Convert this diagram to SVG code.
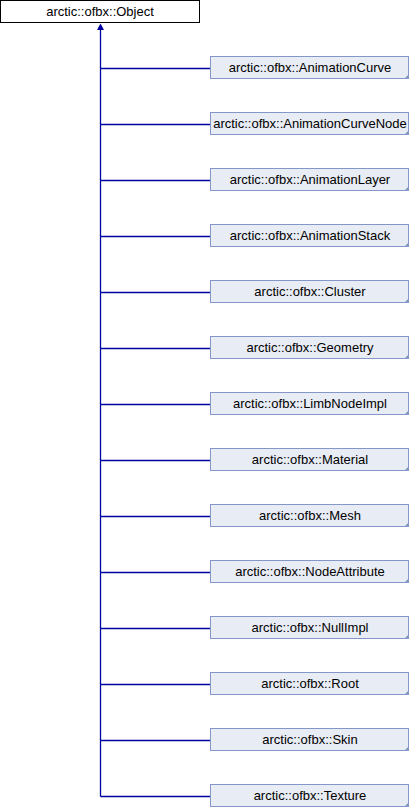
<svg xmlns="http://www.w3.org/2000/svg" width="410" height="808" viewBox="0 0 410 808">
<style>
.bg{fill:#ffffff}
.base rect{fill:#ffffff;stroke:#000000;stroke-width:1}
.cls rect{fill:#e8ecf5;stroke:#8497c8;stroke-width:1}
.cls polygon{fill:#8497c8}
text{font-family:"Liberation Sans",Arial,sans-serif;font-size:13px;fill:#000000;text-anchor:middle}
.edges line{stroke:#0000a0;stroke-width:1.3}
.edges polygon{fill:#0000a0}
</style>
<rect class="bg" x="0" y="0" width="410" height="808"/>
<g class="edges" id="connectors">
<line x1="100.5" y1="28" x2="100.5" y2="796.5"/>
<polygon points="100.5,23.5 97,30 104,30"/>
<line x1="100.5" y1="68.5" x2="210" y2="68.5"/>
<line x1="100.5" y1="124.5" x2="210" y2="124.5"/>
<line x1="100.5" y1="180.5" x2="210" y2="180.5"/>
<line x1="100.5" y1="236.5" x2="210" y2="236.5"/>
<line x1="100.5" y1="292.5" x2="210" y2="292.5"/>
<line x1="100.5" y1="348.5" x2="210" y2="348.5"/>
<line x1="100.5" y1="404.5" x2="210" y2="404.5"/>
<line x1="100.5" y1="460.5" x2="210" y2="460.5"/>
<line x1="100.5" y1="516.5" x2="210" y2="516.5"/>
<line x1="100.5" y1="572.5" x2="210" y2="572.5"/>
<line x1="100.5" y1="628.5" x2="210" y2="628.5"/>
<line x1="100.5" y1="684.5" x2="210" y2="684.5"/>
<line x1="100.5" y1="740.5" x2="210" y2="740.5"/>
<line x1="100.5" y1="796.5" x2="210" y2="796.5"/>
</g>
<g class="base" id="node-Object">
<rect x="0.5" y="0.5" width="199" height="22"/>
<text x="100" y="16">arctic::ofbx::Object</text>
</g>
<g class="cls" id="node-AnimationCurve"><rect x="210.5" y="56.5" width="198" height="22"/><polygon points="409,74 409,79 404,79"/><text x="310" y="72">arctic::ofbx::AnimationCurve</text></g>
<g class="cls" id="node-AnimationCurveNode"><rect x="210.5" y="112.5" width="198" height="22"/><polygon points="409,130 409,135 404,135"/><text x="310" y="128">arctic::ofbx::AnimationCurveNode</text></g>
<g class="cls" id="node-AnimationLayer"><rect x="210.5" y="168.5" width="198" height="22"/><polygon points="409,186 409,191 404,191"/><text x="310" y="184">arctic::ofbx::AnimationLayer</text></g>
<g class="cls" id="node-AnimationStack"><rect x="210.5" y="224.5" width="198" height="22"/><polygon points="409,242 409,247 404,247"/><text x="310" y="240">arctic::ofbx::AnimationStack</text></g>
<g class="cls" id="node-Cluster"><rect x="210.5" y="280.5" width="198" height="22"/><polygon points="409,298 409,303 404,303"/><text x="310" y="296">arctic::ofbx::Cluster</text></g>
<g class="cls" id="node-Geometry"><rect x="210.5" y="336.5" width="198" height="22"/><polygon points="409,354 409,359 404,359"/><text x="310" y="352">arctic::ofbx::Geometry</text></g>
<g class="cls" id="node-LimbNodeImpl"><rect x="210.5" y="392.5" width="198" height="22"/><polygon points="409,410 409,415 404,415"/><text x="310" y="408">arctic::ofbx::LimbNodeImpl</text></g>
<g class="cls" id="node-Material"><rect x="210.5" y="448.5" width="198" height="22"/><polygon points="409,466 409,471 404,471"/><text x="310" y="464">arctic::ofbx::Material</text></g>
<g class="cls" id="node-Mesh"><rect x="210.5" y="504.5" width="198" height="22"/><polygon points="409,522 409,527 404,527"/><text x="310" y="520">arctic::ofbx::Mesh</text></g>
<g class="cls" id="node-NodeAttribute"><rect x="210.5" y="560.5" width="198" height="22"/><polygon points="409,578 409,583 404,583"/><text x="310" y="576">arctic::ofbx::NodeAttribute</text></g>
<g class="cls" id="node-NullImpl"><rect x="210.5" y="616.5" width="198" height="22"/><polygon points="409,634 409,639 404,639"/><text x="310" y="632">arctic::ofbx::NullImpl</text></g>
<g class="cls" id="node-Root"><rect x="210.5" y="672.5" width="198" height="22"/><polygon points="409,690 409,695 404,695"/><text x="310" y="688">arctic::ofbx::Root</text></g>
<g class="cls" id="node-Skin"><rect x="210.5" y="728.5" width="198" height="22"/><polygon points="409,746 409,751 404,751"/><text x="310" y="744">arctic::ofbx::Skin</text></g>
<g class="cls" id="node-Texture"><rect x="210.5" y="784.5" width="198" height="22"/><polygon points="409,802 409,807 404,807"/><text x="310" y="800">arctic::ofbx::Texture</text></g>
</svg>
